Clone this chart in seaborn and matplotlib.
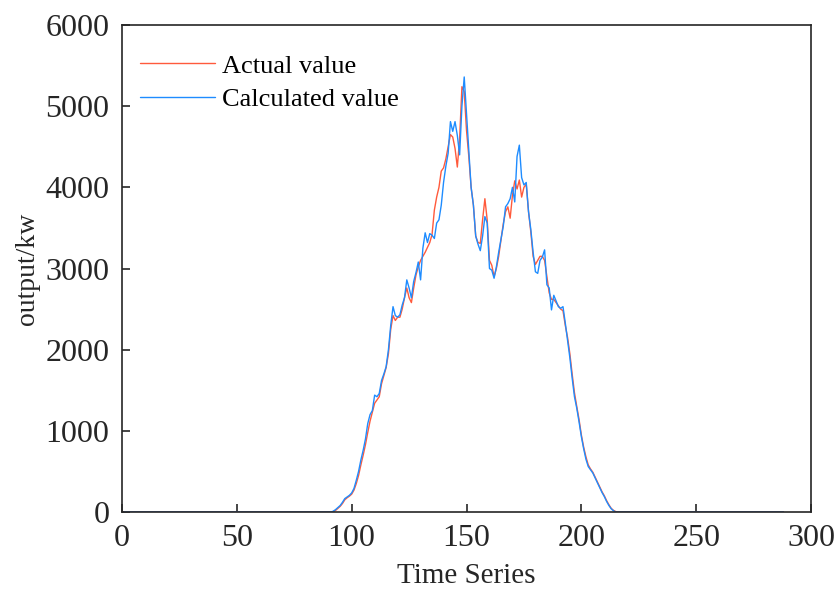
import numpy as np
import pandas as pd
import seaborn as sns
import matplotlib
matplotlib.use("Agg")
import matplotlib.pyplot as plt

# Time index: one sample every 5 minutes over a day (288 samples)
time_steps = list(range(1, 289))

# Daytime output window (t = 92 .. 216), kW
actual_day = [
    5, 20, 45, 70, 105, 150, 175, 195, 220, 270,
    350, 450, 580, 700, 830, 980, 1120, 1230, 1340, 1380,
    1420, 1580, 1680, 1780, 1950, 2250, 2420, 2360, 2400, 2400,
    2500, 2640, 2760, 2640, 2580, 2760, 2920, 3020, 3100, 3150,
    3200, 3260, 3320, 3420, 3720, 3880, 4000, 4200, 4240, 4350,
    4500, 4650, 4620, 4480, 4250, 4600, 5240, 5180, 4700, 4380,
    4000, 3780, 3400, 3320, 3310, 3600, 3860, 3600, 3100, 3040,
    2900, 3000, 3150, 3350, 3550, 3700, 3760, 3620, 3900, 4080,
    3980, 4090, 3880, 4000, 4040, 3700, 3450, 3150, 3050, 3100,
    3150, 3150, 3100, 2900, 2700, 2620, 2620, 2580, 2540, 2500,
    2480, 2300, 2150, 1950, 1700, 1470, 1300, 1140, 950, 800,
    680, 580, 530, 490, 430, 370, 310, 250, 200, 140,
    90, 45, 20, 5, 0,
]
calculated_day = [
    10, 30, 55, 80, 120, 165, 185, 205, 235, 290,
    390, 500, 640, 760, 900, 1090, 1200, 1250, 1440, 1420,
    1460, 1620, 1700, 1790, 2000, 2300, 2530, 2420, 2400, 2430,
    2550, 2640, 2860, 2760, 2640, 2840, 2950, 3080, 2860, 3250,
    3440, 3320, 3430, 3410, 3370, 3560, 3600, 3780, 4060, 4260,
    4420, 4810, 4690, 4810, 4640, 4400, 5000, 5360, 4900, 4430,
    4000, 3780, 3400, 3300, 3220, 3400, 3640, 3560, 3000, 2980,
    2880, 3020, 3200, 3360, 3520, 3760, 3800, 3860, 4000, 3820,
    4380, 4520, 4120, 4030, 4060, 3700, 3480, 3200, 2960, 2940,
    3100, 3140, 3230, 2800, 2760, 2490, 2670, 2600, 2530, 2510,
    2530, 2330, 2120, 1900, 1650, 1420, 1280, 1110, 930, 780,
    650, 560, 520, 480, 420, 360, 300, 240, 190, 130,
    80, 40, 15, 0, 0,
]
night_before = [0] * 91
night_after = [0] * (288 - 91 - len(actual_day))

actual_value = night_before + actual_day + night_after
calculated_value = night_before + calculated_day + night_after

series_names = ["Actual value", "Calculated value"]
series_colors = ["#FF5A3C", "#1E8CFF"]

df = pd.DataFrame({
    "t": time_steps * 2,
    "output": actual_value + calculated_value,
    "series": [series_names[0]] * 288 + [series_names[1]] * 288,
})

sns.set_style("ticks")
plt.rcParams["font.family"] = ["Liberation Serif", "DejaVu Serif"]
plt.rcParams["mathtext.fontset"] = "stix"

ink = "#262626"
fig = plt.figure(figsize=(8.38, 5.93), dpi=100)
ax = fig.add_axes([0.1456, 0.1366, 0.8222, 0.8212])

sns.lineplot(data=df, x="t", y="output", hue="series",
             palette=dict(zip(series_names, series_colors)),
             linewidth=1.0, ax=ax)

ax.set_xlim(0, 300)
ax.set_ylim(0, 6000)
ax.set_xticks([0, 50, 100, 150, 200, 250, 300])
ax.set_yticks([0, 1000, 2000, 3000, 4000, 5000, 6000])
ax.set_xlabel("Time Series", fontsize=21, color=ink, labelpad=7)
ax.set_ylabel("output/kw", fontsize=20, color=ink, labelpad=4)
ax.tick_params(direction="in", length=6, width=1.2, labelsize=23,
               colors=ink, top=False, right=False, pad=9)
for side in ["top", "right", "bottom", "left"]:
    ax.spines[side].set_visible(True)
    ax.spines[side].set_color(ink)
    ax.spines[side].set_linewidth(1.2)

leg = ax.legend(loc="upper left", bbox_to_anchor=(0.011, 0.962),
                frameon=False, fontsize=19, borderaxespad=0,
                handlelength=2.85, handletextpad=0.27, labelspacing=0.38)
for txt in leg.get_texts():
    txt.set_color("black")

fig.savefig("out.png", dpi=100)
